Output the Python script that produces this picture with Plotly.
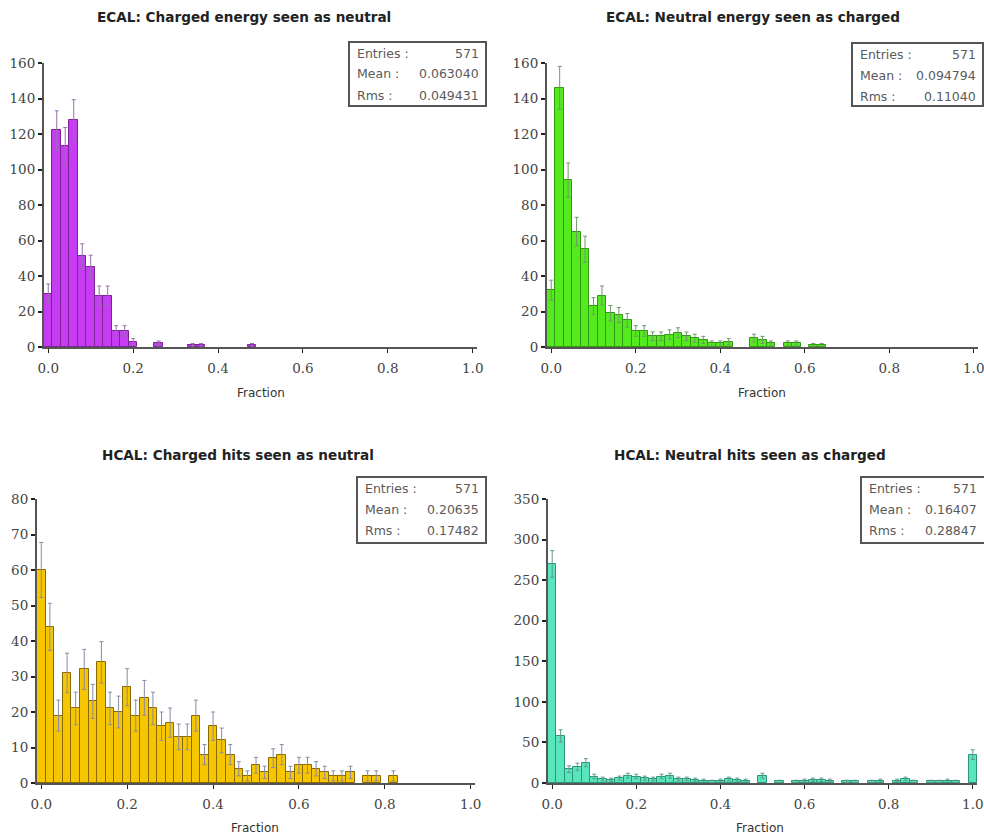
import numpy as np
import plotly.graph_objects as go

W, H = 984, 836
BIN_WIDTH = 0.02

# Histogram counts per bin (bin k is centred on k * 0.02)
ECAL_CHARGED_AS_NEUTRAL = [30, 122, 113, 128, 51, 45, 29, 29, 9, 9, 3, 0, 0, 2, 0, 0, 0, 1, 1, 0,
                           0, 0, 0, 0, 1]
ECAL_NEUTRAL_AS_CHARGED = [32, 146, 94, 65, 55, 23, 29, 19, 18, 15, 9, 9, 6, 6, 7, 8, 6, 5, 4, 2,
                           2, 3, 0, 0, 5, 4, 2, 0, 2, 2, 0, 1, 1]
HCAL_CHARGED_AS_NEUTRAL = [60, 44, 19, 31, 21, 32, 23, 34, 21, 20, 27, 19, 24, 21, 16, 17, 13, 13, 19, 8,
                           16, 12, 8, 4, 2, 5, 3, 7, 8, 3, 5, 5, 4, 3, 2, 2, 3, 0, 2, 2,
                           0, 2]
HCAL_NEUTRAL_AS_CHARGED = [270, 58, 17, 20, 25, 8, 5, 4, 6, 9, 8, 6, 5, 8, 9, 5, 5, 4, 3, 2,
                           3, 5, 4, 3, 0, 9, 0, 2, 0, 2, 3, 4, 4, 3, 0, 2, 2, 0, 2, 3,
                           0, 3, 5, 2, 0, 2, 2, 3, 2, 0, 35]

SERIES = [ECAL_CHARGED_AS_NEUTRAL, ECAL_NEUTRAL_AS_CHARGED,
          HCAL_CHARGED_AS_NEUTRAL, HCAL_NEUTRAL_AS_CHARGED]
TITLES = ["ECAL: Charged energy seen as neutral", "ECAL: Neutral energy seen as charged",
          "HCAL: Charged hits seen as neutral", "HCAL: Neutral hits seen as charged"]
STAT_LABELS = ["Entries :", "Mean :", "Rms :"]
ENTRIES = ["571", "571", "571", "571"]
MEANS = ["0.063040", "0.094794", "0.20635", "0.16407"]
RMSS = ["0.049431", "0.11040", "0.17482", "0.28847"]
Y_MAX = [160, 160, 80, 350]
Y_STEP = [20, 20, 10, 50]
X_TICKS = [0.0, 0.2, 0.4, 0.6, 0.8, 1.0]
X_TICK_TEXT = ["0.0", "0.2", "0.4", "0.6", "0.8", "1.0"]
X_LABEL = "Fraction"

FILLS = ["#c63cf2", "#55ea1e", "#f6c600", "#5ae6bc"]
EDGES = ["#7d2296", "#2f9a10", "#8a6a00", "#2c9676"]
ERRS = ["#9a6fae", "#6d9a6a", "#8a8aa8", "#5f9a90"]

# window-pixel geometry of each plot area: (left, right, top, bottom)
GEOM = [(44, 477, 63, 347), (547, 978, 63, 347), (37, 475, 499, 783), (548, 977, 499, 783)]
TITLE_POS = [(244, 17), (753, 17), (238, 455), (750, 455)]
XLABEL_POS = [(261, 393), (762, 393), (255, 828), (760, 828)]
STAT_BOX = [(349, 486, 42, 106), (852, 983, 43, 106), (357, 486, 477, 543), (861, 992, 477, 543)]


def fx(v):
    return v / W


def fy(v):
    return 1 - v / H


TICK_FONT = dict(family="DejaVu Serif", size=13.5, color="#444")
STAT_FONT = dict(family="DejaVu Sans", size=12.5, color="#5a5a5a")

fig = go.Figure()
annotations = []
shapes = []
for i, counts in enumerate(SERIES):
    s = "" if i == 0 else str(i + 1)
    so = str(i + 5)
    centers = [round(k * BIN_WIDTH, 2) for k in range(len(counts))]
    ys = [c if c > 0 else None for c in counts]
    errs = [float(np.sqrt(c)) for c in counts]
    fig.add_trace(go.Bar(
        x=centers, y=ys, width=BIN_WIDTH,
        marker=dict(color=FILLS[i], line=dict(color=EDGES[i], width=1)),
        error_y=dict(type="data", array=errs, visible=True, color=ERRS[i], thickness=1, width=2),
        xaxis="x" + s, yaxis="y" + s, showlegend=False,
    ))
    l, r, t, b = GEOM[i]
    xr = [-0.01, 1.01]
    fig.layout["xaxis" + s] = dict(
        domain=[fx(l), fx(r)], anchor="y" + s, range=xr,
        tickvals=X_TICKS, ticktext=X_TICK_TEXT, ticks="outside", ticklen=4, tickwidth=1,
        tickcolor="#222", showline=True, linecolor="#555", linewidth=2, showgrid=False,
        zeroline=False, tickfont=TICK_FONT, automargin=False, ticklabelstandoff=4,
        ticklabeloverflow="allow",
    )
    fig.layout["yaxis" + s] = dict(
        domain=[fy(b), fy(t)], anchor="x" + s, range=[0, Y_MAX[i]], dtick=Y_STEP[i],
        ticks="outside", ticklen=4, tickwidth=2, tickcolor="#222", showline=True,
        linecolor="#555", linewidth=2, showgrid=False, zeroline=False, tickfont=TICK_FONT,
        automargin=False, ticklabeloverflow="allow",
    )
    # inner halves of the crossing tick marks
    fig.layout["xaxis" + so] = dict(
        overlaying="x" + s, anchor="y" + s, side="bottom", range=xr, tickvals=X_TICKS,
        ticks="inside", ticklen=4, tickwidth=1, tickcolor="#222", showticklabels=False,
        showline=False, showgrid=False, zeroline=False,
    )
    fig.layout["yaxis" + so] = dict(
        overlaying="y" + s, anchor="x" + s, side="left", range=[0, Y_MAX[i]], dtick=Y_STEP[i],
        ticks="inside", ticklen=4, tickwidth=2, tickcolor="#222", showticklabels=False,
        showline=False, showgrid=False, zeroline=False,
    )
    tx, ty = TITLE_POS[i]
    annotations.append(dict(
        text="<b>" + TITLES[i] + "</b>", x=fx(tx), y=fy(ty), xref="paper", yref="paper",
        xanchor="center", yanchor="middle", showarrow=False,
        font=dict(family="DejaVu Sans", size=13.6, color="#222"),
    ))
    lx, ly = XLABEL_POS[i]
    annotations.append(dict(
        text=X_LABEL, x=fx(lx), y=fy(ly), xref="paper", yref="paper",
        xanchor="center", yanchor="middle", showarrow=False,
        font=dict(family="DejaVu Sans", size=12, color="#333"),
    ))
    bl, br, bt, bb = STAT_BOX[i]
    shapes.append(dict(type="rect", xref="paper", yref="paper", x0=fx(bl), x1=fx(br),
                       y0=fy(bb), y1=fy(bt), line=dict(color="#555", width=2),
                       fillcolor="white", layer="above"))
    values = [ENTRIES[i], MEANS[i], RMSS[i]]
    for j in range(3):
        yc = bt + 11 + 21 * j
        annotations.append(dict(text=STAT_LABELS[j], x=fx(bl + 6), y=fy(yc), xref="paper",
                                yref="paper", xanchor="left", yanchor="middle",
                                showarrow=False, font=STAT_FONT))
        annotations.append(dict(text=values[j], x=fx(min(br, 984) - 5), y=fy(yc), xref="paper",
                                yref="paper", xanchor="right", yanchor="middle",
                                showarrow=False, font=STAT_FONT))

fig.update_layout(
    width=W, height=H, margin=dict(l=0, r=0, t=0, b=0),
    paper_bgcolor="white", plot_bgcolor="white", bargap=0,
    annotations=annotations, shapes=shapes,
)
# remove the default 8px body margin so the figure fills the window exactly
fig.write_html("out.html", config={"displayModeBar": False},
               post_script="document.body.style.margin='0';")
